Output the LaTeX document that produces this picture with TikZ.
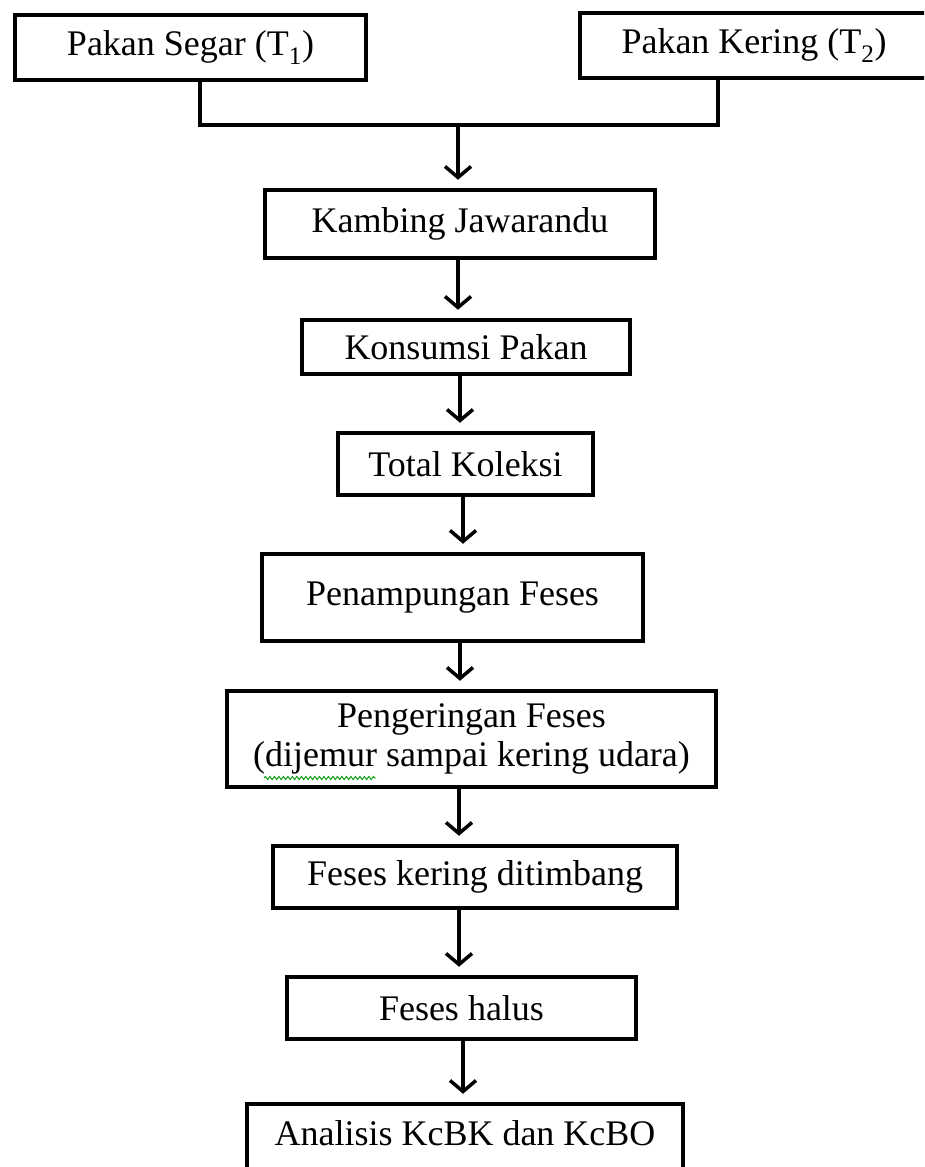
\documentclass[tikz,border=0pt]{standalone}
\usepackage{fontspec}
\setmainfont{Liberation Serif}
\usetikzlibrary{arrows.meta,decorations.pathmorphing}
\begin{document}
\begin{tikzpicture}[x=1pt,y=-1pt,
  box/.style={draw, line width=4.5pt, inner sep=0pt, align=center,
    font=\fontsize{36}{39}\selectfont},
  lbl/.style={inner sep=0pt, align=center, font=\fontsize{36}{39}\selectfont},
  ln/.style={line width=3.5pt},
  arr/.style={line width=3.5pt, -{Straight Barb[length=11pt,width=26pt]}, shorten >=8pt}]
\useasboundingbox (0,0) rectangle (924,1167);
\clip (0,0) rectangle (924,1167);
\fill[white] (0,0) rectangle (924,1167);

\node[box, minimum width=351pt, minimum height=65pt] (t1) at (190.5,47.5) {Pakan Segar (T\textsubscript{1})};
\node[box, minimum width=348pt, minimum height=65pt] (t2) at (754,45.5) {Pakan Kering (T\textsubscript{2})};
\node[box, minimum width=390pt, minimum height=68pt] (kamb) at (460,224) {Kambing Jawarandu};
\node[box, minimum width=328pt, minimum height=54pt] (kons) at (466,347) {Konsumsi Pakan};
\node[box, minimum width=255pt, minimum height=62pt] (total) at (465.5,464) {Total Koleksi};
\node[box, minimum width=381pt, minimum height=87pt] (pen) at (452.5,597.5) {Penampungan Feses};
\node[box, minimum width=489pt, minimum height=96pt] (peng) at (471.5,739) {Pengeringan Feses\\(dijemur sampai kering udara)};
\node[box, minimum width=404pt, minimum height=62pt] (fk) at (475,877) {Feses kering ditimbang};
\node[box, minimum width=349pt, minimum height=62pt] (fh) at (461.5,1008) {Feses halus};
\node[box, minimum width=436pt, minimum height=100pt] (ana) at (465,1154) {};
\node[lbl] (anatext) at (465,1133) {Analisis KcBK dan KcBO};

% spell-check squiggle under "dijemur"
\coordinate (sq1) at (264,778);
\coordinate (sq2) at (376,778);
\draw[green!60!black, line width=0.9pt, decorate,
  decoration={snake, amplitude=1.6pt, segment length=4.5pt}] (sq1) -- (sq2);

% merge connector
\coordinate (j1) at (200,125);
\coordinate (j2) at (718,125);
\coordinate (jm) at (458,125);
\draw[ln] (t1.south -| j1) -- (j1) -- (j2) -- (t2.south -| j2);
\draw[arr] (jm) -- (kamb.north -| jm);

% flow arrows
\coordinate (a1) at (458,0);
\coordinate (a2) at (460,0);
\coordinate (a3) at (463,0);
\coordinate (a4) at (460,0);
\coordinate (a5) at (459,0);
\coordinate (a6) at (459,0);
\coordinate (a7) at (463,0);
\draw[arr] (kamb.south -| a1) -- (kons.north -| a1);
\draw[arr] (kons.south -| a2) -- (total.north -| a2);
\draw[arr] (total.south -| a3) -- (pen.north -| a3);
\draw[arr] (pen.south -| a4) -- (peng.north -| a4);
\draw[arr] (peng.south -| a5) -- (fk.north -| a5);
\draw[arr] (fk.south -| a6) -- (fh.north -| a6);
\draw[arr] (fh.south -| a7) -- (ana.north -| a7);
\end{tikzpicture}
\end{document}
